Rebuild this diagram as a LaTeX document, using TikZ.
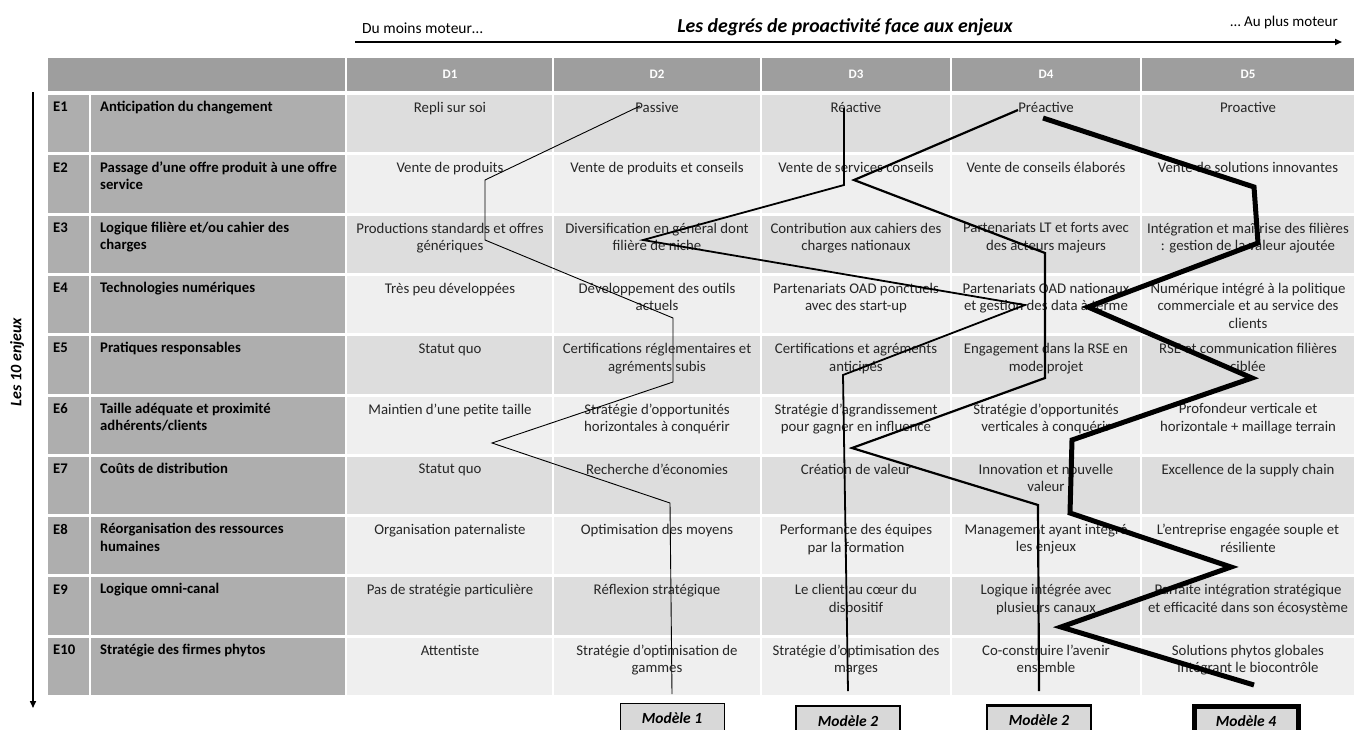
\documentclass[tikz,border=0pt]{standalone}
\usepackage{fontspec}
\setmainfont{Carlito}
\usetikzlibrary{arrows.meta}

\definecolor{hdrgray}{RGB}{158,158,158}
\definecolor{lblgray}{RGB}{174,174,174}
\definecolor{cellA}{RGB}{221,221,221}
\definecolor{cellB}{RGB}{239,239,239}
\definecolor{boxgray}{RGB}{216,216,216}

\begin{document}
\begin{tikzpicture}[x=1pt,y=-1pt]

\tikzstyle{celltxt} = [anchor=north,inner sep=0,align=center,text=black!85,font={\fontsize{14.8}{17.5}\selectfont}]
\tikzstyle{enjeu} = [anchor=north west,inner sep=0,align=left,font={\fontsize{14.7}{17.5}\selectfont\bfseries}]
\tikzstyle{degre} = [inner sep=0,text=white,font={\fontsize{13}{14}\selectfont\bfseries}]
\tikzstyle{modele} = [draw,fill=boxgray,minimum width=104,minimum height=30,inner sep=0,anchor=north,font={\fontsize{15.5}{17}\selectfont\bfseries\itshape}]
\tikzstyle{axe} = [-{Triangle[length=7pt,width=6pt]}, draw=black, line width=2pt]

\useasboundingbox (0,0) rectangle (1354,729);

% fond du tableau
\fill[hdrgray] (48,58) rectangle (1354,91);
\foreach \t/\f in {95/cellA, 155.3/cellB, 215.6/cellA, 275.9/cellB, 336.2/cellA,
                   396.5/cellB, 456.8/cellA, 517.1/cellB, 577.4/cellA, 637.7/cellB} {
  \fill[lblgray] (48,\t) rectangle (345,\t+57.3);
  \fill[\f] (347,\t) rectangle (1354,\t+57.3);
}
\draw[white, line width=2.5pt] (90,95) -- (90,698);
\draw[white, line width=2pt] (346,58) -- (346,698);
\draw[white, line width=2pt] (553,58) -- (553,698);
\draw[white, line width=2pt] (761,58) -- (761,698);
\draw[white, line width=2pt] (951,58) -- (951,698);
\draw[white, line width=2pt] (1141,58) -- (1141,698);

% axes
\node [anchor=west,inner sep=0,font={\fontsize{15.5}{17}\selectfont}] (moins) at (362,28) {Du moins moteur…};
\node [inner sep=0,font={\fontsize{19.8}{22}\selectfont\bfseries\itshape}] (titre) at (845,27) {Les degrés de proactivité face aux enjeux};
\node [anchor=east,inner sep=0,font={\fontsize{15}{17}\selectfont}] (plus) at (1338,22) {… Au plus moteur};
\coordinate (axe-g) at (355,42);
\coordinate (axe-d) at (1342,42);
\draw [axe] (axe-g) -- (axe-d);

\node [rotate=90,inner sep=0,font={\fontsize{16}{18}\selectfont\bfseries\itshape}] (dix) at (17,362) {Les 10 enjeux};
\coordinate (enj-h) at (33,92);
\coordinate (enj-b) at (33,708);
\draw [axe, line width=1.5pt] (enj-h) -- (enj-b);

% degres
\node [degre] (d1) at (450,74) {D1};
\node [degre] (d2) at (657,74) {D2};
\node [degre] (d3) at (856,74) {D3};
\node [degre] (d4) at (1046,74) {D4};
\node [degre] (d5) at (1248,74) {D5};

% enjeux
\node [enjeu] (e1) at (53,102) {E1};
\node [enjeu] (l1) at (100,101) {Anticipation du changement};
\node [enjeu] (e2) at (53,162.3) {E2};
\node [enjeu] (l2) at (100,161.3) {Passage d’une offre produit à une offre\\service};
\node [enjeu] (e3) at (53,222.6) {E3};
\node [enjeu] (l3) at (100,221.6) {Logique filière et/ou cahier des\\charges};
\node [enjeu] (e4) at (53,282.9) {E4};
\node [enjeu] (l4) at (100,281.9) {Technologies numériques};
\node [enjeu] (e5) at (53,343.2) {E5};
\node [enjeu] (l5) at (100,342.2) {Pratiques responsables};
\node [enjeu] (e6) at (53,403.5) {E6};
\node [enjeu] (l6) at (100,402.5) {Taille adéquate et proximité\\adhérents/clients};
\node [enjeu] (e7) at (53,463.8) {E7};
\node [enjeu] (l7) at (100,462.8) {Coûts de distribution};
\node [enjeu] (e8) at (53,524.1) {E8};
\node [enjeu] (l8) at (100,523.1) {Réorganisation des ressources\\humaines};
\node [enjeu] (e9) at (53,584.4) {E9};
\node [enjeu] (l9) at (100,583.4) {Logique omni-canal};
\node [enjeu] (e10) at (53,644.7) {E10};
\node [enjeu] (l10) at (100,643.7) {Stratégie des firmes phytos};

% E1
\node [celltxt] (e1d1) at (450,102) {Repli sur soi};
\node [celltxt] (e1d2) at (657,102) {Passive};
\node [celltxt] (e1d3) at (856,102) {Réactive};
\node [celltxt] (e1d4) at (1046,102) {Préactive};
\node [celltxt] (e1d5) at (1248,102) {Proactive};
% E2
\node [celltxt] (e2d1) at (450,162.3) {Vente de produits};
\node [celltxt] (e2d2) at (657,162.3) {Vente de produits et conseils};
\node [celltxt] (e2d3) at (856,162.3) {Vente de services conseils};
\node [celltxt] (e2d4) at (1046,162.3) {Vente de conseils élaborés};
\node [celltxt] (e2d5) at (1248,162.3) {Vente de solutions innovantes};
% E3
\node [celltxt] (e3d1) at (450,222.6) {Productions standards et offres\\génériques};
\node [celltxt] (e3d2) at (657,222.6) {Diversification en général dont\\filière de niche};
\node [celltxt] (e3d3) at (856,222.6) {Contribution aux cahiers des\\charges nationaux};
\node [celltxt] (e3d4) at (1046,222.6) {Partenariats LT et forts avec\\des acteurs majeurs};
\node [celltxt] (e3d5) at (1248,222.6) {Intégration et maîtrise des filières\\: gestion de la valeur ajoutée};
% E4
\node [celltxt] (e4d1) at (450,282.9) {Très peu développées};
\node [celltxt] (e4d2) at (657,282.9) {Développement des outils\\actuels};
\node [celltxt] (e4d3) at (856,282.9) {Partenariats OAD ponctuels\\avec des start-up};
\node [celltxt] (e4d4) at (1046,282.9) {Partenariats OAD nationaux\\et gestion des data à terme};
\node [celltxt] (e4d5) at (1248,282.9) {Numérique intégré à la politique\\commerciale et au service des\\clients};
% E5
\node [celltxt] (e5d1) at (450,343.2) {Statut quo};
\node [celltxt] (e5d2) at (657,343.2) {Certifications réglementaires et\\agréments subis};
\node [celltxt] (e5d3) at (856,343.2) {Certifications et agréments\\anticipés};
\node [celltxt] (e5d4) at (1046,343.2) {Engagement dans la RSE en\\mode projet};
\node [celltxt] (e5d5) at (1248,343.2) {RSE et communication filières\\ciblée};
% E6
\node [celltxt] (e6d1) at (450,403.5) {Maintien d’une petite taille};
\node [celltxt] (e6d2) at (657,403.5) {Stratégie d’opportunités\\horizontales à conquérir};
\node [celltxt] (e6d3) at (856,403.5) {Stratégie d’agrandissement\\pour gagner en influence};
\node [celltxt] (e6d4) at (1046,403.5) {Stratégie d’opportunités\\verticales à conquérir};
\node [celltxt] (e6d5) at (1248,403.5) {Profondeur verticale et\\horizontale + maillage terrain};
% E7
\node [celltxt] (e7d1) at (450,463.8) {Statut quo};
\node [celltxt] (e7d2) at (657,463.8) {Recherche d’économies};
\node [celltxt] (e7d3) at (856,463.8) {Création de valeur};
\node [celltxt] (e7d4) at (1046,463.8) {Innovation et nouvelle\\valeur};
\node [celltxt] (e7d5) at (1248,463.8) {Excellence de la supply chain};
% E8
\node [celltxt] (e8d1) at (450,524.1) {Organisation paternaliste};
\node [celltxt] (e8d2) at (657,524.1) {Optimisation des moyens};
\node [celltxt] (e8d3) at (856,524.1) {Performance des équipes\\par la formation};
\node [celltxt] (e8d4) at (1046,524.1) {Management ayant intégré\\les enjeux};
\node [celltxt] (e8d5) at (1248,524.1) {L’entreprise engagée souple et\\résiliente};
% E9
\node [celltxt] (e9d1) at (450,584.4) {Pas de stratégie particulière};
\node [celltxt] (e9d2) at (657,584.4) {Réflexion stratégique};
\node [celltxt] (e9d3) at (856,584.4) {Le client au cœur du\\dispositif};
\node [celltxt] (e9d4) at (1046,584.4) {Logique intégrée avec\\plusieurs canaux};
\node [celltxt] (e9d5) at (1248,584.4) {Parfaite intégration stratégique\\et efficacité dans son écosystème};
% E10
\node [celltxt] (e10d1) at (450,644.7) {Attentiste};
\node [celltxt] (e10d2) at (657,644.7) {Stratégie d’optimisation de\\gammes};
\node [celltxt] (e10d3) at (856,644.7) {Stratégie d’optimisation des\\marges};
\node [celltxt] (e10d4) at (1046,644.7) {Co-construire l’avenir\\ensemble};
\node [celltxt] (e10d5) at (1248,644.7) {Solutions phytos globales\\intégrant le biocontrôle};

% modeles
\node [modele, line width=0.8pt] (m1) at (672,703) {Modèle 1};
\node [modele, line width=1.8pt] (m2) at (848,705) {Modèle 2};
\node [modele, line width=2.5pt] (m3) at (1039,704) {Modèle 2};
\node [modele, line width=5pt] (m4) at (1246,704) {Modèle 4};

% profils
\draw [line width=0.9pt] (640,106) -- (485,180) -- (485,240) -- (673,318) -- (673,382)
  -- (492,443) -- (670,503) -- ([yshift=9pt]m1.north);
\draw [line width=1.8pt] (844,108) -- (844,185) -- (643,240) -- (1025,305) -- (843,375)
  -- ([yshift=14pt]m2.north);
\draw [line width=2.2pt] (1018,110) -- (854,180) -- (1045,253) -- (1045,378) -- (852,448)
  -- (1038,505) -- ([yshift=13pt]m3.north);
\draw [line width=5pt] (1043,118) -- (1254,187) -- (1258,243) -- (1088,307) -- (1252,378)
  -- (1072,440) -- (1070,513) -- (1231,567) -- (1061,627) -- (1254,685);

\end{tikzpicture}
\end{document}
